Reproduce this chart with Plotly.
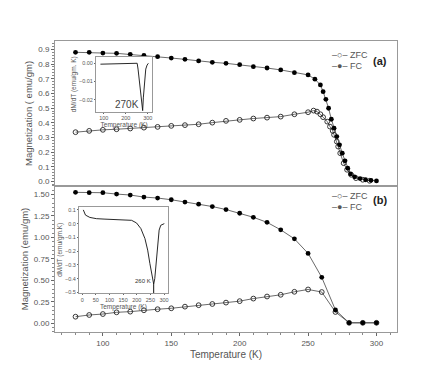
import plotly.graph_objects as go

# panel (a): magnetization vs temperature
t_a_fc = [80, 90, 100, 110, 120, 130, 140, 150, 160, 170, 180, 190, 200, 210, 220, 230, 240,
          250, 255, 259, 261, 263, 265, 267, 269, 271, 273, 275, 277, 279, 281, 284, 288, 292, 296, 300]
m_a_fc = [0.880, 0.880, 0.875, 0.873, 0.866, 0.859, 0.850, 0.841, 0.832, 0.821, 0.812, 0.805, 0.796,
          0.782, 0.773, 0.760, 0.741, 0.726, 0.697, 0.658, 0.612, 0.560, 0.499, 0.424, 0.363, 0.306,
          0.250, 0.193, 0.141, 0.091, 0.052, 0.032, 0.020, 0.012, 0.008, 0.004]
t_a_zfc = [80, 90, 100, 110, 120, 130, 140, 150, 160, 170, 180, 190, 200, 210, 220, 230, 240, 250,
           254, 256.5, 259, 261, 264, 266, 268, 269, 271, 272, 273.5, 276, 278.5, 281.5, 285, 290, 295]
m_a_zfc = [0.336, 0.345, 0.352, 0.356, 0.361, 0.367, 0.372, 0.379, 0.384, 0.390, 0.401, 0.413, 0.420,
           0.429, 0.435, 0.442, 0.458, 0.472, 0.483, 0.476, 0.458, 0.438, 0.408, 0.374, 0.345, 0.318,
           0.272, 0.238, 0.193, 0.125, 0.080, 0.046, 0.023, 0.012, 0.005]

# panel (b)
t_b = [80, 90, 100, 110, 120, 130, 140, 150, 160, 170, 180, 190, 200, 210, 220, 230, 240, 250,
       260, 270, 280, 290, 300]
m_b_fc = [1.525, 1.521, 1.521, 1.505, 1.494, 1.470, 1.459, 1.439, 1.412, 1.388, 1.360, 1.325, 1.282,
          1.235, 1.176, 1.089, 0.984, 0.815, 0.536, 0.156, 0.007, 0.007, 0.007]
m_b_zfc = [0.078, 0.098, 0.109, 0.129, 0.137, 0.153, 0.165, 0.176, 0.195, 0.212, 0.226, 0.242, 0.259,
           0.289, 0.313, 0.333, 0.368, 0.395, 0.365, 0.133, 0.007, 0.007, 0.007]

# insets: dM/dT
t_ia = [85, 120, 160, 200, 240, 252, 256, 260, 264, 268, 271, 274, 277, 280, 282, 286, 291, 297, 303]
d_ia = [-0.0005, -0.0004, -0.0002, 0.0, 0.0002, 0.0, -0.0032, -0.008, -0.0122, -0.017, -0.0205,
        -0.024, -0.026, -0.019, -0.0158, -0.0086, -0.0032, -0.001, 0.0]
t_ib = [4, 12, 28, 52, 80, 120, 160, 181, 199, 215, 230, 240, 248, 256, 262, 266, 270, 276, 282,
        288, 295, 301]
d_ib = [0.100, 0.062, 0.045, 0.036, 0.033, 0.031, 0.028, 0.024, 0.005, -0.036, -0.109, -0.193,
        -0.290, -0.387, -0.44, -0.40, -0.30, -0.155, -0.047, -0.012, -0.002, 0.0]

peak_a_label = "270K"
peak_b_label = "260 K"
peak_b_t = 262

FONT = "Liberation Sans, Arial, sans-serif"
GREY = "#555"
FRAME = "#999"

fig = go.Figure()


def add_pair(tz, mz, tf, mf, xa, ya):
    fig.add_trace(go.Scatter(
        x=tz, y=mz, mode="lines+markers", xaxis=xa, yaxis=ya,
        line=dict(color="#444", width=0.8),
        marker=dict(symbol="circle-open", size=4.8, color="#222", line=dict(width=0.9)),
    ))
    fig.add_trace(go.Scatter(
        x=tf, y=mf, mode="lines+markers", xaxis=xa, yaxis=ya,
        line=dict(color="#444", width=0.8),
        marker=dict(symbol="circle", size=4.8, color="#000"),
    ))


add_pair(t_a_zfc, m_a_zfc, t_a_fc, m_a_fc, "x", "y")
add_pair(t_b, m_b_zfc, t_b, m_b_fc, "x2", "y2")

fig.add_trace(go.Scatter(x=t_ia, y=d_ia, mode="lines", xaxis="x3", yaxis="y3",
                         line=dict(color="#111", width=0.9)))
fig.add_trace(go.Scatter(x=t_ib, y=d_ib, mode="lines", xaxis="x4", yaxis="y4",
                         line=dict(color="#111", width=0.9)))

frame = dict(showline=True, mirror=True, linecolor=FRAME, linewidth=1, showgrid=False,
             zeroline=False, automargin=False)
main_ticks = dict(ticks="outside", ticklen=3, tickcolor="#666", tickwidth=1,
                  tickfont=dict(size=8, color=GREY),
                  minor=dict(ticks="outside", ticklen=2, tickcolor="#888"))
inset_ticks = dict(ticks="outside", ticklen=1, tickcolor="#666", tickwidth=1,
                   tickfont=dict(size=5.5, color=GREY))

fig.update_layout(
    width=436, height=382,
    margin=dict(l=55, r=39, t=41, b=50),
    paper_bgcolor="white", plot_bgcolor="white",
    showlegend=False,
    font=dict(family=FONT, color=GREY),
    xaxis=dict(domain=[0, 1], anchor="y", range=[65, 315], showticklabels=False, ticks="", **frame),
    yaxis=dict(domain=[0.502, 1], anchor="x", range=[-0.03, 0.957], dtick=0.1, tickformat=".1f",
               title=dict(text="Magnetization ( emu/gm)", font=dict(size=9.5, color=GREY), standoff=3),
               **frame, **main_ticks),
    xaxis2=dict(domain=[0, 1], anchor="y2", range=[65, 315], tick0=0, dtick=50,
                title=dict(text="Temperature (K)", font=dict(size=10, color=GREY), standoff=4),
                **frame, **main_ticks),
    yaxis2=dict(domain=[0, 0.502], anchor="x2", range=[-0.10, 1.60], dtick=0.25, tickformat=".2f",
                title=dict(text="Magnetization (emu/gm)", font=dict(size=9.5, color=GREY), standoff=3),
                **frame, **main_ticks),
    xaxis3=dict(domain=[0.120, 0.284], anchor="y3", range=[65, 320], tickvals=[100, 200, 300],
                title=dict(text="Temperature (K)", font=dict(size=6.5, color=GREY), standoff=0),
                **frame, **inset_ticks),
    yaxis3=dict(domain=[0.757, 0.946], anchor="x3", range=[-0.0266, 0.0036],
                tickvals=[0, -0.01, -0.02], tickformat=".2f",
                title=dict(text="dM/dT (emu/gm. K)", font=dict(size=6.5, color=GREY), standoff=1),
                **frame, **inset_ticks),
    xaxis4=dict(domain=[0.070, 0.330], anchor="y4", range=[-12, 314], tick0=0, dtick=50,
                title=dict(text="Temperature (K)", font=dict(size=6.5, color=GREY), standoff=0),
                **frame, **inset_ticks),
    yaxis4=dict(domain=[0.134, 0.431], anchor="x4", range=[-0.505, 0.124], dtick=0.1,
                tickformat=".1f",
                title=dict(text="dM/dT (emu/gm.K)", font=dict(size=6.5, color=GREY), standoff=1),
                **frame, **inset_ticks),
)

# inset peak markers
fig.add_annotation(x=208, y=-0.0226, xref="x3", yref="y3", text=peak_a_label, showarrow=False,
                   font=dict(size=10, color="#444"))
fig.add_annotation(x=222, y=-0.42, xref="x4", yref="y4", text=peak_b_label, showarrow=False,
                   font=dict(size=6, color="#333"))
fig.add_shape(type="line", xref="x4", yref="y4", x0=peak_b_t, x1=peak_b_t, y0=-0.44, y1=-0.505,
              line=dict(color="#111", width=1))

# legends and panel labels
for y_z, y_f, y_lab, lab in [(0.976, 0.938, 0.959, "(a)"), (0.467, 0.430, 0.452, "(b)")]:
    fig.add_annotation(x=0.805, y=y_z, xref="paper", yref="paper", xanchor="left",
                       text="\u2013\u25cb\u2013 ZFC", showarrow=False, font=dict(size=9, color=GREY))
    fig.add_annotation(x=0.805, y=y_f, xref="paper", yref="paper", xanchor="left",
                       text="\u2013\u25cf\u2013 FC", showarrow=False, font=dict(size=9, color=GREY))
    fig.add_annotation(x=0.976, y=y_lab, xref="paper", yref="paper", text="<b>%s</b>" % lab,
                       showarrow=False, font=dict(size=11, color="#222"))

fig.write_html("out.html", config={"displayModeBar": False},
               post_script="document.body.style.margin='0';")
